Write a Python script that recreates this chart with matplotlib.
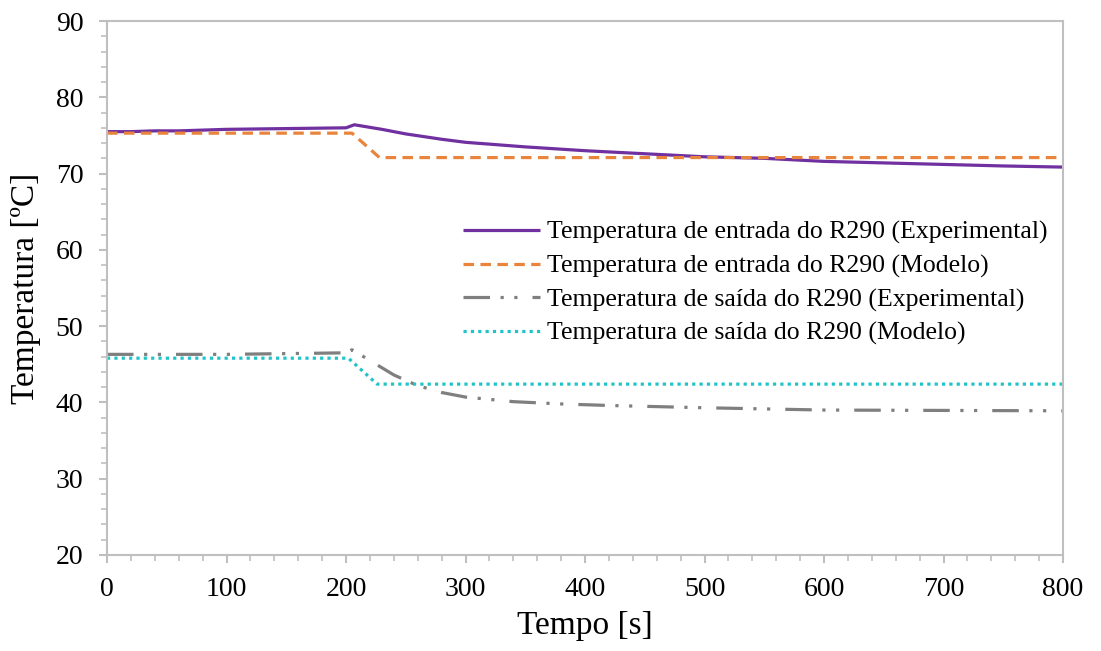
import matplotlib
matplotlib.use('Agg')
import matplotlib.pyplot as plt
from matplotlib.ticker import MultipleLocator

# Temperatura de entrada do R290 (Experimental)
t_in_exp = [0, 20, 40, 60, 100, 150, 200, 207, 230, 250, 280, 300, 350, 400,
            450, 500, 550, 600, 650, 700, 750, 800]
T_in_exp = [75.5, 75.5, 75.6, 75.6, 75.8, 75.9, 76.0, 76.4, 75.8, 75.2, 74.5,
            74.1, 73.5, 73.0, 72.6, 72.2, 72.0, 71.6, 71.4, 71.2, 71.0, 70.85]

# Temperatura de entrada do R290 (Modelo)
t_in_mod = [0, 205, 228, 800]
T_in_mod = [75.3, 75.3, 72.1, 72.1]

# Temperatura de saída do R290 (Experimental)
t_out_exp = [0, 100, 150, 200, 205, 220, 240, 260, 280, 300, 340, 380, 420,
             500, 600, 700, 800]
T_out_exp = [46.3, 46.3, 46.4, 46.5, 46.9, 45.5, 43.6, 42.2, 41.3, 40.7, 40.1,
             39.8, 39.6, 39.3, 39.0, 38.95, 38.9]

# Temperatura de saída do R290 (Modelo)
t_out_mod = [0, 202, 226, 800]
T_out_mod = [45.8, 45.8, 42.4, 42.4]

labels = [
    "Temperatura de entrada do R290 (Experimental)",
    "Temperatura de entrada do R290 (Modelo)",
    "Temperatura de saída do R290 (Experimental)",
    "Temperatura de saída do R290 (Modelo)",
]

plt.rcParams['font.family'] = ['Liberation Serif', 'DejaVu Serif']

fig = plt.figure(figsize=(11.01, 6.51), dpi=100)
ax = fig.add_axes([0.0972, 0.1475, 0.8683, 0.8202])

lw = 2.3
ax.plot(t_in_exp, T_in_exp, color='#7030A0', lw=lw, label=labels[0],
        solid_capstyle='butt')
ax.plot(t_in_mod, T_in_mod, color='#E8843C', lw=lw, label=labels[1],
        dashes=(3.3, 2.0))
ax.plot(t_out_exp, T_out_exp, color='#7F7F7F', lw=lw, label=labels[2],
        dashes=(8.3, 3.3, 1, 3.3, 1, 4.7))
ax.plot(t_out_mod, T_out_mod, color='#1FC4C8', lw=lw, label=labels[3],
        dashes=(1, 1.3))

ax.set_xlim(0, 800)
ax.set_ylim(20, 90)
ax.xaxis.set_major_locator(MultipleLocator(100))
ax.xaxis.set_minor_locator(MultipleLocator(20))
ax.yaxis.set_major_locator(MultipleLocator(10))
ax.yaxis.set_minor_locator(MultipleLocator(2))

for s in ax.spines.values():
    s.set_color('#BFBFBF')
    s.set_linewidth(1.5)
ax.tick_params(which='major', direction='out', length=6, width=1.5,
               color='#BFBFBF', labelsize=20)
ax.tick_params(axis='y', which='major', pad=11)
ax.tick_params(axis='x', which='major', pad=10)
ax.tick_params(which='minor', direction='out', length=4, width=1.2,
               color='#BFBFBF')

ax.set_xlabel("Tempo [s]", fontsize=24, labelpad=6)
ax.set_ylabel("Temperatura [ºC]", fontsize=24)
ax.yaxis.set_label_coords(-0.069, 0.5)

ax.legend(loc='upper left', bbox_to_anchor=(0.362, 0.645), frameon=False,
          fontsize=18.5, handlelength=3.0, handletextpad=0.27,
          labelspacing=0.4, borderaxespad=0)

fig.savefig('out.png', dpi=100)
